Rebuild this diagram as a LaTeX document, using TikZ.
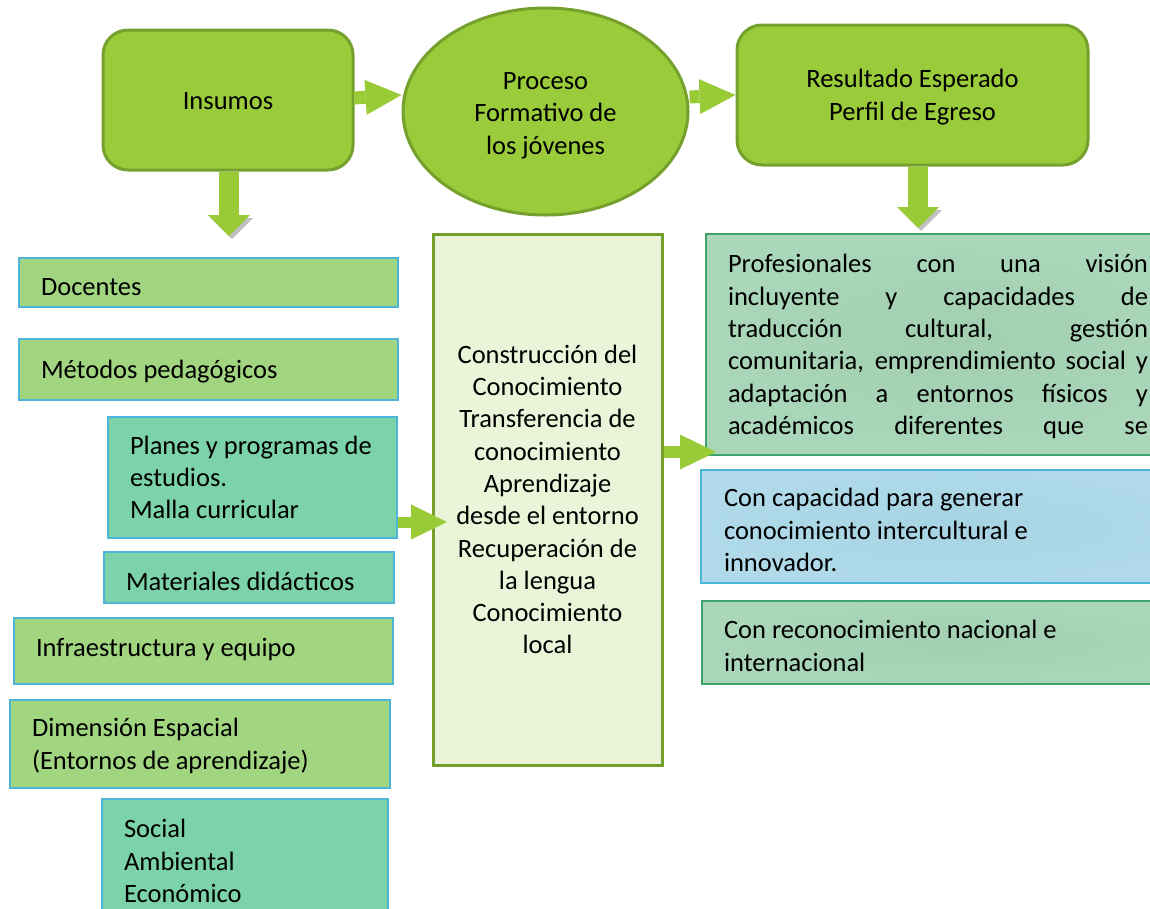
\documentclass[tikz,border=0pt]{standalone}
\usepackage{fontspec}
\setmainfont{Carlito}
\usetikzlibrary{shapes.geometric,arrows.meta}
\definecolor{topgreen}{HTML}{9ACB3B}
\definecolor{topborder}{HTML}{76A02C}
\definecolor{lgreen}{HTML}{A1D57F}
\definecolor{lteal}{HTML}{7DD3A9}
\definecolor{lblueb}{HTML}{4DB6D8}
\definecolor{midfill}{HTML}{EAF4D8}
\definecolor{rgreen}{HTML}{AAD6B9}
\definecolor{rgreenin}{HTML}{A2CFB0}
\definecolor{rgreenb}{HTML}{3FA36B}
\definecolor{rblue}{HTML}{B0DAEA}
\definecolor{rbluein}{HTML}{A6D3E3}
\definecolor{arrowg}{HTML}{98CB36}
\newcommand\wstrut{\rule[-7.1pt]{0pt}{32.3pt}}
\newcommand\hstrut{\rule{0pt}{25.2pt}}
\newcommand\bxtxt[3]{\hspace*{#1}\parbox{#2}{\raggedright #3}}
\tikzset{
  topbox/.style={rectangle, rounded corners=25pt, draw=topborder, fill=topgreen, line width=3pt, inner sep=0pt, align=center},
  leftbox/.style={rectangle, draw=lblueb, line width=2.5pt, inner sep=0pt},
  greenbox/.style={leftbox, fill=lgreen},
  tealbox/.style={leftbox, fill=lteal},
  midbox/.style={rectangle, draw=topborder, fill=midfill, line width=3pt, inner sep=0pt, align=center},
  rgbox/.style={rectangle, draw=rgreenb, line width=2.5pt, inner sep=0pt, inner color=rgreenin, outer color=rgreen},
  rbbox/.style={rectangle, draw=lblueb, line width=2.5pt, inner sep=0pt, inner color=rbluein, outer color=rblue},
  harrow/.style={draw=arrowg, line width=#1, -{Triangle[length=36pt,width=35pt,line width=0pt]}},
  varrow/.style={draw=arrowg, line width=20pt, -{Triangle[length=21pt,width=42pt,line width=0pt]},
     preaction={draw=black!55, opacity=0.45, transform canvas={xshift=3pt,yshift=-3pt}}},
}
\begin{document}
\begin{tikzpicture}[x=1pt,y=-1pt, font=\fontsize{26.5}{32.3}\selectfont]
\useasboundingbox (0,0) rectangle (1150,908);
\clip (0,0) rectangle (1150,908);

% top row
\node[topbox, minimum width=250pt, minimum height=140pt] (insumos) at (228,100) {\wstrut Insumos};
\node[ellipse, draw=topborder, fill=topgreen, line width=3pt, inner sep=0pt, align=center,
      minimum width=285pt, minimum height=207pt] (proceso) at (545.5,111.5)
      {\wstrut Proceso\\Formativo de\\los jóvenes};
\node[topbox, minimum width=351pt, minimum height=140pt] (resultado) at (912.5,95)
      {\wstrut Resultado Esperado\\Perfil de Egreso\wstrut};

% left column
\node[greenbox, minimum width=379pt, minimum height=49pt] (docentes) at (208.5,282.5)
      {\bxtxt{22pt}{357pt}{\hstrut Docentes}};
\node[greenbox, minimum width=379pt, minimum height=61pt] (metodos) at (208.5,369.5)
      {\bxtxt{22pt}{357pt}{\wstrut Métodos pedagógicos}};
\node[tealbox, minimum width=289pt, minimum height=121pt] (planes) at (252.5,477.5)
      {\bxtxt{22pt}{267pt}{\wstrut Planes y programas de\\estudios.\\Malla curricular\wstrut}};
\node[tealbox, minimum width=290pt, minimum height=51pt] (materiales) at (249,577.5)
      {\bxtxt{22pt}{268pt}{\hstrut Materiales didácticos}};
\node[greenbox, minimum width=379pt, minimum height=66pt] (infra) at (203.5,651)
      {\bxtxt{22pt}{357pt}{\rule[-15pt]{0pt}{40.2pt}Infraestructura y equipo}};
\node[greenbox, minimum width=380pt, minimum height=88pt] (dimension) at (200,744)
      {\bxtxt{22pt}{358pt}{\wstrut Dimensión Espacial\\(Entornos de aprendizaje)\wstrut}};
\node[tealbox, minimum width=286pt, minimum height=124pt] (social) at (245,861)
      {\bxtxt{22pt}{264pt}{\wstrut Social\\Ambiental\\Económico\wstrut}};

% middle column
\node[midbox, minimum width=229pt, minimum height=531pt] (middle) at (547.5,499.5)
      {\wstrut Construcción del\\Conocimiento\\Transferencia de\\conocimiento\\Aprendizaje\\desde el entorno\\Recuperación de\\la lengua\\Conocimiento\\local\wstrut};

% right column
\node[rgbox, minimum width=500pt, minimum height=221pt] (prof) at (956,344.5)
      {\bxtxt{22pt}{478pt}{%
        \wstrut\makebox[420pt][s]{Profesionales con una visión}\\
        \makebox[420pt][s]{incluyente y capacidades de}\\
        \makebox[420pt][s]{traducción cultural, gestión}\\
        \makebox[420pt][s]{comunitaria, emprendimiento social y}\\
        \makebox[420pt][s]{adaptación a entornos físicos y}\\
        \makebox[420pt][s]{académicos diferentes que se}\wstrut}};
\node[rbbox, minimum width=505pt, minimum height=113pt] (capacidad) at (953.5,526.5)
      {\bxtxt{23pt}{482pt}{\wstrut Con capacidad para generar\\conocimiento intercultural e\\innovador.}};
\node[rgbox, minimum width=504pt, minimum height=83pt] (reconoc) at (954,642.5)
      {\bxtxt{22pt}{482pt}{\wstrut Con reconocimiento nacional e\\internacional}};

% arrow end points
\coordinate (insdown) at (229,236);
\coordinate (resdown) at (918,228);
\coordinate (midin) at (447,522);
\coordinate (profin) at (716,452);

% connectors
\draw[harrow=13pt] ([yshift=2pt]insumos.east) -- ([yshift=5pt]insumos.east -| proceso.west);
\draw[harrow=13pt] ([yshift=-2pt]resultado.west -| proceso.east) -- (resultado.west);
\draw[varrow] (insumos.south -| insdown) -- (insdown);
\draw[varrow] (resultado.south -| resdown) -- (resdown);
\draw[harrow=11pt] (planes.east |- midin) -- (midin);
\draw[harrow=12pt] (middle.east |- profin) -- (profin);
\end{tikzpicture}
\end{document}
